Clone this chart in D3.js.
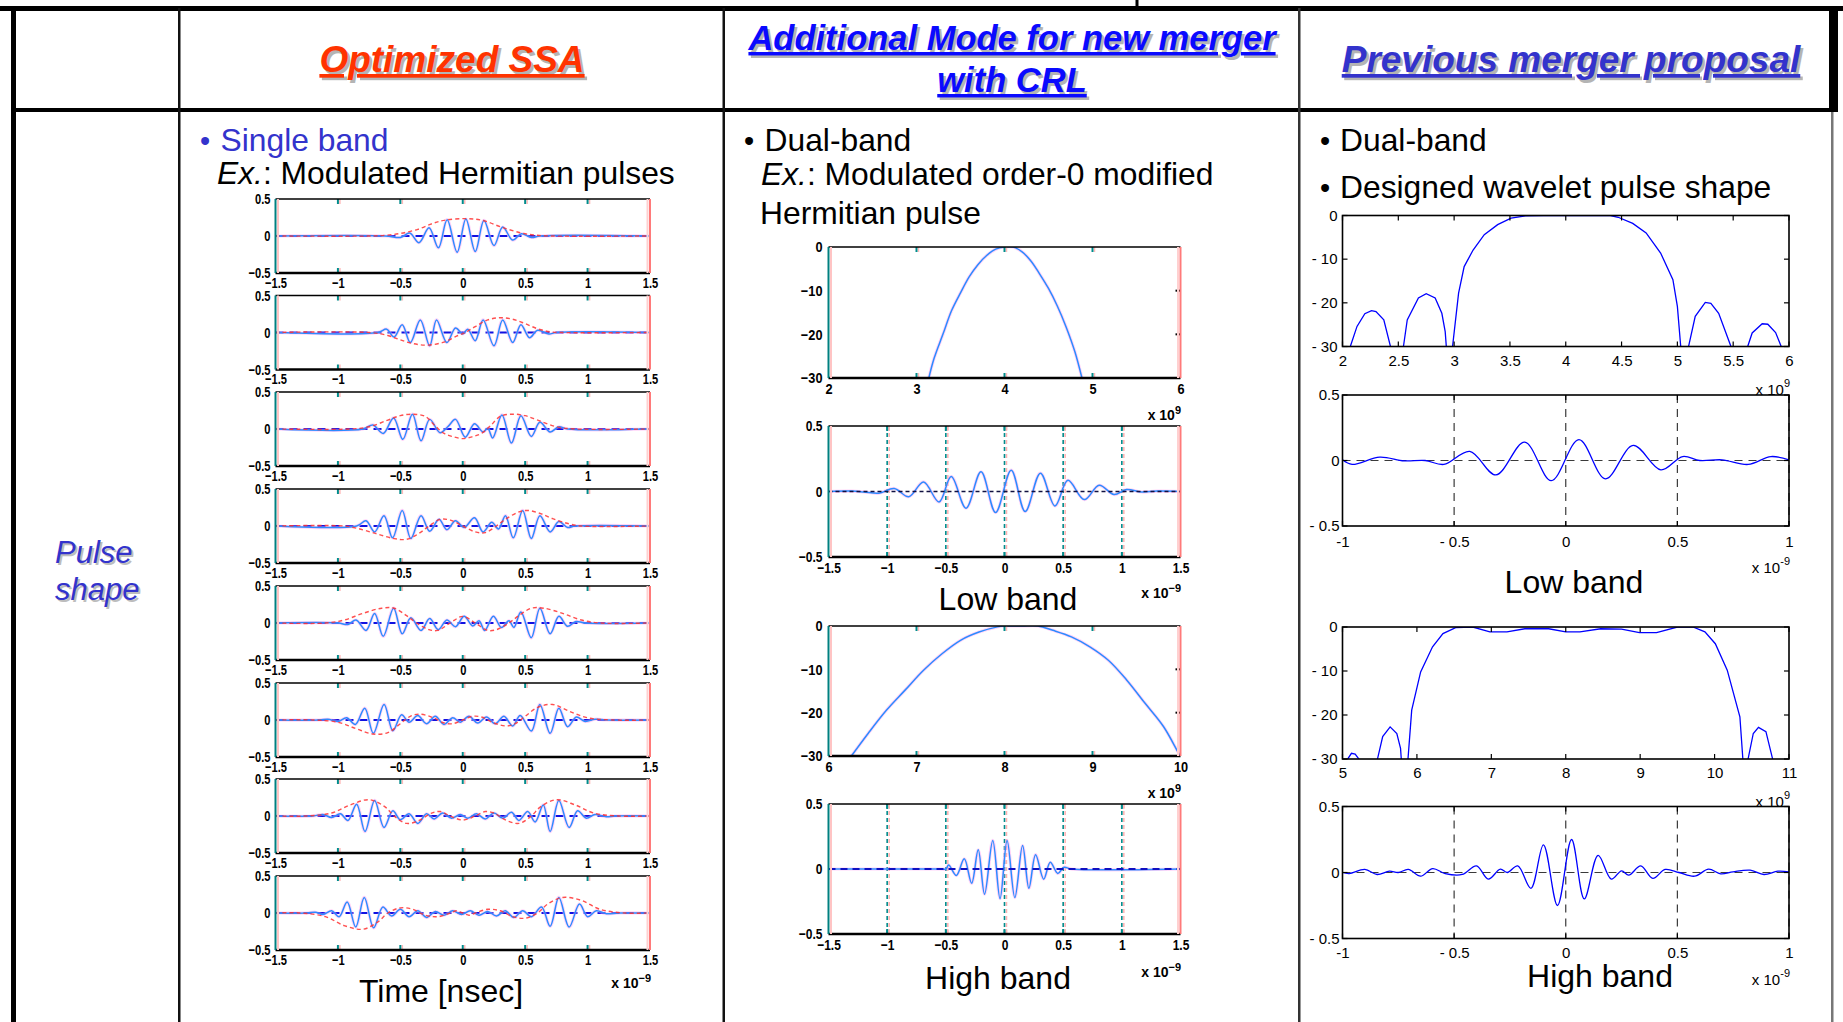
<!DOCTYPE html>
<html><head><meta charset="utf-8">
<script src="https://cdn.jsdelivr.net/npm/d3@7/dist/d3.min.js"></script>
<style>html,body{margin:0;padding:0;background:#fff;}svg{display:block;}</style>
</head><body>
<svg id="c" width="1843" height="1022"></svg>
<script>
// ================= DATA =================
const headerTitles = ["Optimized SSA", "Additional Mode for new merger", "with CRL", "Previous merger proposal"];
const rowLabel = ["Pulse", "shape"];
const colTexts = {
  ssaBullet: "Single band",
  ssaEx: ": Modulated Hermitian pulses",
  crlBullet: "Dual-band",
  crlEx1: ": Modulated order-0 modified",
  crlEx2: "Hermitian pulse",
  prevBullet1: "Dual-band",
  prevBullet2: "Designed wavelet pulse shape"
};
const captions = ["Time [nsec]", "Low band", "High band"];

const ssaTimeTicks = [-1.5, -1, -0.5, 0, 0.5, 1, 1.5];
const ssaTimeLabels = ["−1.5", "−1", "−0.5", "0", "0.5", "1", "1.5"];
const ampTicks = [-0.5, 0, 0.5];
const ssaAmpLabels = ["−0.5", "0", "0.5"];
const crlLowFreqTicks = [2, 3, 4, 5, 6];
const crlHighFreqTicks = [6, 7, 8, 9, 10];
const dbTicks = [-30, -20, -10, 0];
const crlDbLabels = ["−30", "−20", "−10", "0"];
const prevLowFreqTicks = [2, 2.5, 3, 3.5, 4, 4.5, 5, 5.5, 6];
const prevLowFreqLabels = ["2", "2.5", "3", "3.5", "4", "4.5", "5", "5.5", "6"];
const prevHighFreqTicks = [5, 6, 7, 8, 9, 10, 11];
const prevTimeTicks = [-1, -0.5, 0, 0.5, 1];
const prevTimeLabels = ["-1", "- 0.5", "0", "0.5", "1"];
const prevDbLabels = ["- 30", "- 20", "- 10", "0"];
const prevAmpLabels = ["- 0.5", "0", "0.5"];

// Optimized SSA: modulated Hermitian pulses [t (ns), amplitude]
const ssaWave1 = [[-1.5,0],[-0.62,0],[-0.5,-0.02],[-0.425,0.04],[-0.35,-0.09],[-0.27,0.11],[-0.195,-0.16],[-0.125,0.22],[-0.045,-0.22],[0.025,0.23],[0.1,-0.21],[0.17,0.21],[0.25,-0.13],[0.32,0.12],[0.4,-0.055],[0.47,0.03],[0.55,-0.02],[0.62,0],[1.5,0]];
const ssaEnv1 = [[-1.5,0],[-0.75,0],[-0.62,0.01],[-0.5,0.035],[-0.36,0.09],[-0.24,0.17],[-0.14,0.215],[0.025,0.235],[0.16,0.21],[0.31,0.12],[0.47,0.04],[0.58,0.012],[0.72,0],[1.5,0]];
const ssaWave2 = [[-1.5,0],[-0.68,0],[-0.61,0.045],[-0.55,-0.06],[-0.485,0.105],[-0.42,-0.136],[-0.34,0.17],[-0.265,-0.18],[-0.21,0.17],[-0.127,-0.136],[-0.058,0.06],[0,-0.02],[0.04,0.045],[0.1,-0.11],[0.163,0.17],[0.25,-0.18],[0.32,0.17],[0.4,-0.136],[0.466,0.105],[0.535,-0.07],[0.6,0.03],[0.69,-0.02],[0.75,0],[1.5,0]];
const ssaEnv2 = [[-1.5,0],[-0.75,0],[-0.6,-0.04],[-0.5,-0.1],[-0.4,-0.15],[-0.28,-0.17],[-0.15,-0.13],[-0.05,-0.05],[0.02,0],[0.1,0.08],[0.2,0.17],[0.3,0.2],[0.4,0.18],[0.5,0.12],[0.6,0.05],[0.7,0.01],[0.8,0],[1.5,0]];
const ssaWave3 = [[-1.5,0],[-0.8,0],[-0.72,0.055],[-0.637,-0.06],[-0.554,0.15],[-0.48,-0.14],[-0.403,0.2],[-0.334,-0.16],[-0.265,0.13],[-0.182,-0.05],[-0.12,0.03],[-0.058,0.13],[0.02,-0.11],[0.094,0.07],[0.163,-0.04],[0.2,0.01],[0.24,-0.12],[0.314,0.19],[0.39,-0.19],[0.466,0.18],[0.549,-0.1],[0.618,0.09],[0.7,-0.04],[0.77,0.03],[0.84,0],[1.5,0]];
const ssaEnv3 = [[-1.5,0],[-0.9,0],[-0.75,0.03],[-0.6,0.12],[-0.5,0.18],[-0.4,0.2],[-0.3,0.17],[-0.22,0.04],[-0.15,-0.06],[-0.085,-0.1],[0,-0.13],[0.085,-0.1],[0.15,-0.06],[0.22,0.04],[0.3,0.17],[0.4,0.2],[0.5,0.18],[0.6,0.12],[0.75,0.03],[0.9,0],[1.5,0]];
const ssaWave4 = [[-1.5,0],[-0.85,0],[-0.775,0.07],[-0.706,-0.08],[-0.631,0.14],[-0.562,-0.16],[-0.485,0.21],[-0.416,-0.17],[-0.334,0.14],[-0.265,-0.07],[-0.19,0.09],[-0.127,-0.05],[-0.058,0.07],[0.011,-0.02],[0.094,0.11],[0.163,-0.08],[0.232,0.05],[0.287,-0.04],[0.342,0.14],[0.405,-0.16],[0.48,0.21],[0.549,-0.17],[0.618,0.14],[0.7,-0.08],[0.77,0.06],[0.84,-0.02],[0.9,0],[1.5,0]];
const ssaEnv4 = [[-1.5,0],[-0.95,0],[-0.85,-0.03],[-0.7,-0.1],[-0.55,-0.17],[-0.45,-0.18],[-0.35,-0.1],[-0.27,0],[-0.18,0.09],[-0.1,0.08],[0,0],[0.1,-0.08],[0.18,-0.09],[0.27,0],[0.35,0.1],[0.45,0.19],[0.52,0.21],[0.62,0.17],[0.72,0.1],[0.85,0.03],[0.95,0],[1.5,0]];
const ssaWave5 = [[-1.5,0],[-1.0,0],[-0.92,-0.02],[-0.855,0.04],[-0.775,-0.1],[-0.706,0.13],[-0.637,-0.18],[-0.554,0.2],[-0.485,-0.145],[-0.416,0.07],[-0.334,-0.1],[-0.265,0.06],[-0.196,-0.09],[-0.127,0.04],[-0.058,-0.05],[0.011,0.09],[0.08,-0.04],[0.13,0.03],[0.176,-0.1],[0.245,0.09],[0.31,-0.06],[0.37,0.03],[0.41,-0.06],[0.466,0.15],[0.549,-0.2],[0.618,0.2],[0.7,-0.145],[0.77,0.09],[0.84,-0.045],[0.907,0.02],[0.98,0],[1.5,0]];
const ssaEnv5 = [[-1.5,0],[-1.1,0],[-0.95,0.04],[-0.8,0.13],[-0.65,0.2],[-0.55,0.2],[-0.45,0.1],[-0.37,0],[-0.27,-0.09],[-0.2,-0.1],[-0.1,0],[0,0.09],[0.1,0],[0.2,-0.1],[0.27,-0.09],[0.37,0],[0.45,0.1],[0.55,0.2],[0.65,0.2],[0.8,0.13],[0.95,0.04],[1.1,0],[1.5,0]];
const ssaWave6 = [[-1.5,0],[-1.15,0],[-1.08,0.01],[-1.0,-0.02],[-0.93,0.03],[-0.86,-0.06],[-0.785,0.16],[-0.716,-0.18],[-0.63,0.21],[-0.56,-0.145],[-0.49,0.07],[-0.43,-0.03],[-0.36,0.06],[-0.29,-0.05],[-0.22,0.05],[-0.15,-0.06],[-0.08,0.03],[-0.02,-0.03],[0.05,0.05],[0.12,-0.04],[0.19,0.04],[0.26,-0.05],[0.33,0.05],[0.4,-0.08],[0.46,0.06],[0.55,-0.15],[0.618,0.21],[0.7,-0.18],[0.77,0.16],[0.84,-0.09],[0.91,0.04],[0.98,-0.02],[1.06,0.01],[1.15,0],[1.5,0]];
const ssaEnv6 = [[-1.5,0],[-1.2,0],[-1.0,-0.03],[-0.85,-0.12],[-0.72,-0.19],[-0.6,-0.17],[-0.5,-0.05],[-0.42,0.05],[-0.35,0.08],[-0.25,0.04],[-0.15,-0.04],[-0.08,-0.05],[0,0],[0.08,0.05],[0.15,0.04],[0.25,-0.04],[0.35,-0.08],[0.42,-0.05],[0.5,0.05],[0.6,0.17],[0.72,0.21],[0.85,0.12],[1.0,0.03],[1.2,0],[1.5,0]];
const ssaWave7 = [[-1.5,0],[-1.2,0],[-1.12,0.02],[-1.05,-0.02],[-0.98,0.03],[-0.92,-0.06],[-0.85,0.16],[-0.783,-0.21],[-0.706,0.21],[-0.631,-0.155],[-0.56,0.07],[-0.5,-0.05],[-0.43,0.03],[-0.36,-0.1],[-0.29,0.03],[-0.23,-0.04],[-0.16,0.04],[-0.09,-0.03],[-0.02,0.02],[0.04,-0.03],[0.11,0.03],[0.18,-0.04],[0.25,0.04],[0.32,-0.03],[0.39,0.05],[0.45,-0.06],[0.52,0.06],[0.58,-0.08],[0.645,0.15],[0.7,-0.21],[0.77,0.21],[0.852,-0.155],[0.92,0.07],[0.99,-0.03],[1.06,0.02],[1.15,-0.01],[1.22,0],[1.5,0]];
const ssaEnv7 = [[-1.5,0],[-1.25,0],[-1.05,0.04],[-0.9,0.15],[-0.75,0.22],[-0.62,0.12],[-0.55,0],[-0.45,-0.1],[-0.35,-0.06],[-0.25,0.04],[-0.18,0.06],[-0.1,0],[0,-0.055],[0.1,0],[0.18,0.06],[0.25,0.04],[0.35,-0.06],[0.45,-0.1],[0.55,0],[0.62,0.12],[0.75,0.22],[0.9,0.15],[1.05,0.04],[1.25,0],[1.5,0]];
const ssaWave8 = [[-1.5,0],[-1.25,0],[-1.18,0.01],[-1.12,-0.02],[-1.05,0.03],[-0.99,-0.05],[-0.926,0.15],[-0.857,-0.19],[-0.789,0.21],[-0.714,-0.2],[-0.64,0.08],[-0.57,-0.04],[-0.5,0.05],[-0.43,-0.05],[-0.36,0.03],[-0.29,-0.06],[-0.22,0.02],[-0.15,-0.03],[-0.08,0.03],[-0.01,-0.02],[0.06,0.03],[0.13,-0.03],[0.2,0.02],[0.27,-0.04],[0.34,0.03],[0.41,-0.06],[0.48,0.03],[0.55,-0.05],[0.631,0.08],[0.7,-0.18],[0.77,0.21],[0.852,-0.19],[0.935,0.12],[1.0,-0.05],[1.07,0.03],[1.15,-0.01],[1.25,0],[1.5,0]];
const ssaEnv8 = [[-1.5,0],[-1.3,0],[-1.1,-0.05],[-0.95,-0.17],[-0.8,-0.22],[-0.68,-0.12],[-0.6,0],[-0.5,0.07],[-0.4,0.05],[-0.3,-0.03],[-0.2,-0.05],[-0.1,0],[-0.05,0.03],[0,0],[0.05,-0.03],[0.1,0],[0.2,0.05],[0.3,0.03],[0.4,-0.05],[0.5,-0.07],[0.6,0],[0.68,0.12],[0.8,0.21],[0.95,0.17],[1.1,0.05],[1.3,0],[1.5,0]];

// Additional mode with CRL: spectra [GHz, dB] and time pulses [ns, amplitude]
const crlLowSpec = [[3.14,-30],[3.2,-25.5],[3.3,-20],[3.4,-14.5],[3.5,-10.5],[3.6,-6.8],[3.7,-4],[3.8,-1.9],[3.9,-0.5],[4.0,0],[4.1,0],[4.2,-1.1],[4.3,-3.2],[4.4,-6.2],[4.5,-9.5],[4.6,-13.5],[4.7,-18.3],[4.8,-24],[4.88,-30]];
const crlLowTime = [[-1.5,0],[-1.3,0.003],[-1.2,-0.003],[-1.07,-0.013],[-0.94,0.023],[-0.816,-0.04],[-0.69,0.073],[-0.558,-0.08],[-0.454,0.114],[-0.328,-0.127],[-0.2,0.15],[-0.076,-0.16],[0.057,0.163],[0.176,-0.153],[0.306,0.14],[0.43,-0.11],[0.54,0.085],[0.68,-0.062],[0.807,0.047],[0.933,-0.023],[1.04,0.015],[1.17,-0.004],[1.3,0.003],[1.5,0]];
const crlHighSpec = [[6.26,-30],[6.45,-24.8],[6.66,-19.4],[6.87,-14.8],[7.08,-10.2],[7.29,-6.4],[7.5,-3.3],[7.71,-1.4],[7.92,-0.2],[8.0,0],[8.2,0],[8.38,0],[8.55,-1.0],[8.76,-2.5],[8.97,-4.8],[9.18,-7.9],[9.39,-12.5],[9.6,-17.9],[9.81,-23.3],[9.98,-29.4],[10,-30]];
const crlHighTime = [[-1.5,0],[-0.55,0],[-0.5,0],[-0.476,0.03],[-0.41,-0.05],[-0.343,0.078],[-0.28,-0.11],[-0.224,0.148],[-0.17,-0.194],[-0.1,0.22],[-0.038,-0.228],[0.022,0.22],[0.088,-0.22],[0.154,0.18],[0.208,-0.148],[0.265,0.11],[0.334,-0.078],[0.39,0.052],[0.454,-0.034],[0.507,0.013],[0.57,0],[1.5,0]];

// Previous merger proposal: spectra [GHz, dB] and time pulses [ns, amplitude]
const prevLowSpec = [[2.0,-40],[2.07,-30],[2.13,-25.4],[2.2,-22.5],[2.26,-21.8],[2.3,-22],[2.37,-23.9],[2.43,-30],[2.49,-45],[2.546,-30],[2.58,-23.9],[2.68,-18.9],[2.75,-17.9],[2.83,-18.9],[2.89,-22.4],[2.92,-26.6],[2.93,-30],[2.96,-45],[2.986,-30],[3.04,-17.8],[3.09,-11.7],[3.17,-7.9],[3.27,-4.4],[3.39,-2.1],[3.51,-0.6],[3.64,-0.1],[3.8,0],[4.0,0],[4.2,0],[4.4,0],[4.47,-0.4],[4.6,-1.8],[4.72,-4.0],[4.85,-8.6],[4.96,-14.7],[5.0,-20.8],[5.03,-30],[5.06,-45],[5.1,-30],[5.16,-23.1],[5.25,-19.9],[5.3,-20.1],[5.37,-22.4],[5.48,-30],[5.55,-45],[5.63,-30],[5.67,-26.9],[5.76,-24.8],[5.81,-24.9],[5.88,-26.8],[5.93,-30],[5.97,-45]];
const prevLowTime = [[-1,0.005],[-0.957,-0.03],[-0.833,0.026],[-0.724,-0.003],[-0.63,0.0],[-0.546,-0.03],[-0.43,0.07],[-0.313,-0.11],[-0.184,0.14],[-0.065,-0.154],[0.059,0.16],[0.178,-0.14],[0.302,0.115],[0.426,-0.072],[0.524,0.03],[0.6,0.0],[0.7,0.005],[0.817,-0.03],[0.919,0.03],[1,0.005]];
const prevHighSpec = [[5.0,-40],[5.07,-30],[5.12,-28.7],[5.17,-28.9],[5.22,-30],[5.35,-45],[5.47,-30],[5.54,-24.9],[5.64,-22.7],[5.73,-24.2],[5.78,-27.6],[5.79,-30],[5.84,-45],[5.88,-30],[5.93,-18.9],[6.05,-10.2],[6.21,-4.5],[6.35,-1.5],[6.52,-0.15],[6.75,0],[6.98,-1.1],[7.21,-1.1],[7.45,-0.4],[7.77,-0.4],[8.0,-1.1],[8.19,-1.1],[8.47,-0.4],[8.75,-0.5],[8.99,-1.3],[9.22,-1.3],[9.5,0],[9.71,0],[9.87,-1.1],[10.01,-3.8],[10.17,-9.8],[10.34,-20.4],[10.38,-30],[10.42,-45],[10.45,-30],[10.52,-24.2],[10.59,-22.8],[10.69,-23.8],[10.78,-30],[10.85,-45],[11,-45]];
const prevHighTime = [[-1,0],[-0.97,-0.008],[-0.9,0.023],[-0.845,-0.015],[-0.79,0.01],[-0.75,0.0],[-0.705,0.023],[-0.65,-0.028],[-0.596,0.03],[-0.54,-0.008],[-0.464,-0.015],[-0.4,0.05],[-0.347,-0.05],[-0.293,0.025],[-0.262,0.0],[-0.215,0.05],[-0.156,-0.12],[-0.1,0.21],[-0.037,-0.25],[0.026,0.25],[0.083,-0.2],[0.145,0.13],[0.204,-0.05],[0.25,0.013],[0.282,-0.02],[0.336,0.05],[0.39,-0.045],[0.445,0.023],[0.507,0.0],[0.577,-0.028],[0.64,0.025],[0.694,-0.01],[0.749,0.005],[0.826,0.018],[0.888,-0.015],[0.95,0.01],[1,0.005]];

// ================= DRAWING =================
const FONT = "'Liberation Sans', Arial, Helvetica, sans-serif";
const svg = d3.select('#c');
let clipN = 0;

function condense(sel, f) {
  sel.each(function () {
    const L = this.getComputedTextLength();
    if (L > 0) d3.select(this).attr('textLength', L * f).attr('lengthAdjust', 'spacingAndGlyphs');
  });
}

// --- table frame ---
const frame = svg.append('g');
[[0, 6, 1843, 5, '#000'], [1135.5, 0, 3, 8, '#000'], [11, 6, 5, 1016, '#000'], [12, 108, 1824, 4, '#000'],
 [178, 8, 2.5, 1014, '#111'], [722.5, 8, 2.5, 1014, '#111'], [1298, 8, 2.5, 1014, '#333'],
 [1829, 6, 9, 106, '#000'], [1831, 112, 2.5, 910, '#777']].forEach(r => {
  frame.append('rect').attr('x', r[0]).attr('y', r[1]).attr('width', r[2]).attr('height', r[3]).attr('fill', r[4]);
});

// --- headers ---
function headText(txt, cx, by, size, color) {
  [[2.5, 2.5, '#b4b4b4'], [0, 0, color]].forEach(([dx, dy, c]) => {
    svg.append('text').attr('x', cx + dx).attr('y', by + dy).attr('text-anchor', 'middle')
      .attr('font-family', FONT).attr('font-size', size).attr('font-weight', 'bold').attr('font-style', 'italic')
      .attr('fill', c).style('text-decoration', 'underline').text(txt);
  });
}
headText(headerTitles[0], 452, 72, 37, '#ff3300');
headText(headerTitles[1], 1012, 50, 34.5, '#0a0aff');
headText(headerTitles[2], 1012, 92, 34.5, '#0a0aff');
headText(headerTitles[3], 1571, 72, 37, '#3333cc');

// --- row label ---
[[2, 2, '#bdbdbd'], [0, 0, '#3333cc']].forEach(([dx, dy, c]) => {
  svg.append('text').attr('x', 55 + dx).attr('y', 563 + dy).attr('font-family', FONT).attr('font-size', 31)
    .attr('font-style', 'italic').attr('fill', c).text(rowLabel[0]);
  svg.append('text').attr('x', 55 + dx).attr('y', 600 + dy).attr('font-family', FONT).attr('font-size', 31)
    .attr('font-style', 'italic').attr('fill', c).text(rowLabel[1]);
});

// --- body texts ---
function bodyText(x, y, parts, color, size) {
  const t = svg.append('text').attr('x', x).attr('y', y).attr('font-family', FONT).attr('font-size', size || 31.8).attr('fill', color || '#000');
  parts.forEach(p => t.append('tspan').attr('font-style', p.i ? 'italic' : null).text(p.t));
  return t;
}
bodyText(200, 151, [{t: '•'}], '#3333cc', 29);
bodyText(220.5, 151, [{t: colTexts.ssaBullet}], '#3333cc');
bodyText(217, 184, [{t: 'Ex.', i: true}, {t: colTexts.ssaEx}]);
bodyText(744, 151, [{t: '•'}], '#000', 29);
bodyText(764.5, 151, [{t: colTexts.crlBullet}]);
bodyText(761, 184.5, [{t: 'Ex.', i: true}, {t: colTexts.crlEx1}]);
bodyText(760, 224, [{t: colTexts.crlEx2}]);
bodyText(1320, 151, [{t: '•'}], '#000', 29);
bodyText(1340, 151, [{t: colTexts.prevBullet1}]);
bodyText(1320, 198, [{t: '•'}], '#000', 29);
bodyText(1340, 198, [{t: colTexts.prevBullet2}]);

function caption(txt, cx, by) {
  svg.append('text').attr('x', cx).attr('y', by).attr('text-anchor', 'middle').attr('font-family', FONT)
    .attr('font-size', 32).attr('fill', '#000').text(txt);
}
caption(captions[0], 441, 1002);
caption(captions[1], 1008, 610);
caption(captions[2], 998, 989);
caption(captions[1], 1574, 593);
caption(captions[2], 1600, 987);

// --- generic panel ---
function panel(o) {
  const g = svg.append('g');
  const x = d3.scaleLinear().domain(o.xdom).range([o.x0, o.x0 + o.w]);
  const y = d3.scaleLinear().domain(o.ydom).range([o.y0 + o.h, o.y0]);
  const id = 'clip' + (clipN++);
  svg.append('clipPath').attr('id', id).append('rect').attr('x', o.x0).attr('y', o.y0).attr('width', o.w).attr('height', o.h);
  g.append('rect').attr('x', o.x0).attr('y', o.y0).attr('width', o.w).attr('height', o.h).attr('fill', '#fff');
  const under = g.append('g');
  const plot = g.append('g').attr('clip-path', `url(#${id})`);
  const over = g.append('g');
  return {g, x, y, plot, under, over};
}

// bitmap-like MATLAB style (left and middle columns)
function bitmapFrame(P, o) {
  const {x, y, under, over} = P;
  const inner = o.xt.slice(1, -1);
  if (o.grid) {
    inner.forEach(v => {
      under.append('line').attr('x1', x(v) + 2).attr('x2', x(v) + 2).attr('y1', o.y0).attr('y2', o.y0 + o.h)
        .attr('stroke', '#ffb0b0').attr('stroke-width', 1.5).attr('stroke-dasharray', '4,3');
      under.append('line').attr('x1', x(v)).attr('x2', x(v)).attr('y1', o.y0).attr('y2', o.y0 + o.h)
        .attr('stroke', '#008c8c').attr('stroke-width', 1.6).attr('stroke-dasharray', '4,3');
    });
  }
  inner.forEach(v => {
    [[o.y0, o.y0 + 5], [o.y0 + o.h - 5, o.y0 + o.h]].forEach(([a, b]) => {
      over.append('line').attr('x1', x(v) + 2).attr('x2', x(v) + 2).attr('y1', a).attr('y2', b).attr('stroke', '#ffb8b8').attr('stroke-width', 1.5);
      over.append('line').attr('x1', x(v)).attr('x2', x(v)).attr('y1', a).attr('y2', b).attr('stroke', '#008c8c').attr('stroke-width', 2);
    });
  });
  if (o.rightTicks) {
    o.yt.slice(1, -1).forEach(v => {
      over.append('line').attr('x1', o.x0 + o.w - 5).attr('x2', o.x0 + o.w).attr('y1', y(v)).attr('y2', y(v)).attr('stroke', '#000').attr('stroke-width', 2);
    });
  }
  over.append('line').attr('x1', o.x0).attr('x2', o.x0 + o.w).attr('y1', o.y0).attr('y2', o.y0).attr('stroke', '#000').attr('stroke-width', 1.4);
  over.append('line').attr('x1', o.x0).attr('x2', o.x0 + o.w).attr('y1', o.y0 + o.h).attr('y2', o.y0 + o.h).attr('stroke', '#000').attr('stroke-width', 2.6);
  over.append('line').attr('x1', o.x0 + 2.5).attr('x2', o.x0 + 2.5).attr('y1', o.y0).attr('y2', o.y0 + o.h).attr('stroke', '#ffc4c4').attr('stroke-width', 2);
  over.append('line').attr('x1', o.x0).attr('x2', o.x0).attr('y1', o.y0).attr('y2', o.y0 + o.h).attr('stroke', '#008080').attr('stroke-width', 2);
  over.append('line').attr('x1', o.x0 + o.w - 2.5).attr('x2', o.x0 + o.w - 2.5).attr('y1', o.y0).attr('y2', o.y0 + o.h).attr('stroke', '#ffd0d0').attr('stroke-width', 2);
  over.append('line').attr('x1', o.x0 + o.w).attr('x2', o.x0 + o.w).attr('y1', o.y0).attr('y2', o.y0 + o.h).attr('stroke', '#ff7a7a').attr('stroke-width', 2);

  const fs = o.fs || 15;
  const ax = over.append('g').attr('transform', `translate(0,${o.y0 + o.h})`)
    .call(d3.axisBottom(x).tickValues(o.xt).tickFormat((d, i) => o.xl[i]).tickSize(0).tickPadding(o.xpad));
  const ay = over.append('g').attr('transform', `translate(${o.x0},0)`)
    .call(d3.axisLeft(y).tickValues(o.yt).tickFormat((d, i) => o.yl[i]).tickSize(0).tickPadding(o.ypad));
  [ax, ay].forEach(a => {
    a.select('.domain').remove();
    a.attr('font-family', FONT).attr('font-size', fs).attr('font-weight', 'bold');
    a.selectAll('text').attr('fill', '#000');
    condense(a.selectAll('text'), o.cond || 0.78);
  });
}

function wave(P, data, curve) {
  const line = d3.line().x(d => P.x(d[0])).y(d => P.y(d[1])).curve(curve || d3.curveCatmullRom.alpha(0.5));
  P.plot.append('path').datum(data).attr('d', line).attr('fill', 'none').attr('stroke', '#ff9cf0').attr('stroke-width', 3.2).attr('stroke-opacity', 0.45);
  P.plot.append('path').datum(data).attr('d', line).attr('fill', 'none').attr('stroke', '#2b8cff').attr('stroke-width', 1.5);
}

function expLabel(xEnd, by, base, exp, style) {
  const bm = style === 'bitmap';
  const t = svg.append('text').attr('x', xEnd).attr('y', by).attr('text-anchor', 'end').attr('font-family', FONT)
    .attr('font-size', bm ? 14 : 15).attr('font-weight', bm ? 'bold' : null).attr('fill', '#000');
  t.append('tspan').text(base);
  t.append('tspan').attr('dy', bm ? -6 : -8).attr('font-size', bm ? 11 : 11).text(exp);
}

// ---- Left column: 8 SSA panels ----
const ssaWaves = [ssaWave1, ssaWave2, ssaWave3, ssaWave4, ssaWave5, ssaWave6, ssaWave7, ssaWave8];
const ssaEnvs = [ssaEnv1, ssaEnv2, ssaEnv3, ssaEnv4, ssaEnv5, ssaEnv6, ssaEnv7, ssaEnv8];
const leftTops = [199, 295.5, 392, 489, 586, 683, 779, 876];
ssaWaves.forEach((w, i) => {
  const o = {x0: 275.5, w: 374.5, y0: leftTops[i], h: 74, xdom: [-1.5, 1.5], ydom: [-0.5, 0.5],
    xt: ssaTimeTicks, xl: ssaTimeLabels, yt: ampTicks, yl: ssaAmpLabels, xpad: 4, ypad: 5, cond: 0.74};
  const P = panel(o);
  bitmapFrame(P, o);
  P.plot.append('line').attr('x1', o.x0).attr('x2', o.x0 + o.w).attr('y1', P.y(0)).attr('y2', P.y(0))
    .attr('stroke', '#1010e0').attr('stroke-width', 2).attr('stroke-dasharray', '8,6');
  wave(P, w);
  const env = d3.line().x(d => P.x(d[0])).y(d => P.y(d[1])).curve(d3.curveCatmullRom.alpha(0.5));
  P.plot.append('path').datum(ssaEnvs[i]).attr('d', env).attr('fill', 'none').attr('stroke', '#ff3030')
    .attr('stroke-width', 1.4).attr('stroke-dasharray', '4,3').attr('stroke-opacity', 0.85);
});
expLabel(651, 988, 'x 10', '−9', 'bitmap');

// ---- Middle column ----
const midX0 = 828.5, midW = 352;
(function () {
  const o = {x0: midX0, w: midW, y0: 247, h: 131, xdom: [2, 6], ydom: [-30, 0], xt: crlLowFreqTicks,
    xl: crlLowFreqTicks.map(String), yt: dbTicks, yl: crlDbLabels, xpad: 5, ypad: 6, rightTicks: true, cond: 0.85};
  const P = panel(o); bitmapFrame(P, o);
  wave(P, crlLowSpec);
  expLabel(1181, 420, 'x 10', '9', 'bitmap');
})();
(function () {
  const o = {x0: midX0, w: midW, y0: 426, h: 131, xdom: [-1.5, 1.5], ydom: [-0.5, 0.5], xt: ssaTimeTicks,
    xl: ssaTimeLabels, yt: ampTicks, yl: ssaAmpLabels, xpad: 5, ypad: 6, grid: true, cond: 0.8};
  const P = panel(o); bitmapFrame(P, o);
  wave(P, crlLowTime);
  P.plot.append('line').attr('x1', o.x0).attr('x2', o.x0 + o.w).attr('y1', P.y(0)).attr('y2', P.y(0))
    .attr('stroke', '#101040').attr('stroke-width', 1.6).attr('stroke-dasharray', '4,3');
  expLabel(1181, 598, 'x 10', '−9', 'bitmap');
})();
(function () {
  const o = {x0: midX0, w: midW, y0: 626, h: 130, xdom: [6, 10], ydom: [-30, 0], xt: crlHighFreqTicks,
    xl: crlHighFreqTicks.map(String), yt: dbTicks, yl: crlDbLabels, xpad: 5, ypad: 6, rightTicks: true, cond: 0.85};
  const P = panel(o); bitmapFrame(P, o);
  wave(P, crlHighSpec);
  expLabel(1181, 798, 'x 10', '9', 'bitmap');
})();
(function () {
  const o = {x0: midX0, w: midW, y0: 804, h: 130, xdom: [-1.5, 1.5], ydom: [-0.5, 0.5], xt: ssaTimeTicks,
    xl: ssaTimeLabels, yt: ampTicks, yl: ssaAmpLabels, xpad: 5, ypad: 6, grid: true, cond: 0.8};
  const P = panel(o); bitmapFrame(P, o);
  wave(P, crlHighTime);
  P.plot.append('line').attr('x1', o.x0).attr('x2', o.x0 + o.w).attr('y1', P.y(0)).attr('y2', P.y(0))
    .attr('stroke', '#1010c0').attr('stroke-width', 1.8).attr('stroke-dasharray', '7,5');
  expLabel(1181, 977, 'x 10', '−9', 'bitmap');
})();

// ---- Right column: classic MATLAB style ----
function prevPanel(o, data, curve) {
  const P = panel(o);
  const {x, y, over, under} = P;
  if (o.grid) {
    o.xt.slice(1).forEach(v => {
      under.append('line').attr('x1', x(v)).attr('x2', x(v)).attr('y1', o.y0).attr('y2', o.y0 + o.h)
        .attr('stroke', '#3a3a3a').attr('stroke-width', 1.2).attr('stroke-dasharray', '8,6');
    });
    under.append('line').attr('x1', o.x0).attr('x2', o.x0 + o.w).attr('y1', y(0)).attr('y2', y(0))
      .attr('stroke', '#3a3a3a').attr('stroke-width', 1.2).attr('stroke-dasharray', '8,6');
  }
  const line = d3.line().x(d => x(d[0])).y(d => y(d[1])).curve(curve);
  P.plot.append('path').datum(data).attr('d', line).attr('fill', 'none').attr('stroke', '#0000ff').attr('stroke-width', 1.3);
  o.xt.forEach(v => {
    over.append('line').attr('x1', x(v)).attr('x2', x(v)).attr('y1', o.y0 + o.h).attr('y2', o.y0 + o.h - 5).attr('stroke', '#000').attr('stroke-width', 1.2);
    over.append('line').attr('x1', x(v)).attr('x2', x(v)).attr('y1', o.y0).attr('y2', o.y0 + 5).attr('stroke', '#000').attr('stroke-width', 1.2);
  });
  o.yt.forEach(v => {
    over.append('line').attr('x1', o.x0).attr('x2', o.x0 + 5).attr('y1', y(v)).attr('y2', y(v)).attr('stroke', '#000').attr('stroke-width', 1.2);
    over.append('line').attr('x1', o.x0 + o.w).attr('x2', o.x0 + o.w - 5).attr('y1', y(v)).attr('y2', y(v)).attr('stroke', '#000').attr('stroke-width', 1.2);
  });
  over.append('rect').attr('x', o.x0).attr('y', o.y0).attr('width', o.w).attr('height', o.h)
    .attr('fill', 'none').attr('stroke', '#000').attr('stroke-width', 1.6);
  const ax = over.append('g').attr('transform', `translate(0,${o.y0 + o.h})`)
    .call(d3.axisBottom(x).tickValues(o.xt).tickFormat((d, i) => o.xl[i]).tickSize(0).tickPadding(o.xpad));
  const ay = over.append('g').attr('transform', `translate(${o.x0},0)`)
    .call(d3.axisLeft(y).tickValues(o.yt).tickFormat((d, i) => o.yl[i]).tickSize(0).tickPadding(o.ypad));
  [ax, ay].forEach(a => {
    a.select('.domain').remove();
    a.attr('font-family', FONT).attr('font-size', 15);
    a.selectAll('text').attr('fill', '#000');
  });
  return P;
}
const rX0 = 1342.5, rW = 446.5;
prevPanel({x0: rX0, w: rW, y0: 215.5, h: 131, xdom: [2, 6], ydom: [-30, 0], xt: prevLowFreqTicks, xl: prevLowFreqLabels,
  yt: dbTicks, yl: prevDbLabels, xpad: 9, ypad: 5}, prevLowSpec, d3.curveLinear);
expLabel(1790, 395, 'x 10', '9', 'prev');
prevPanel({x0: rX0, w: rW, y0: 395, h: 131, xdom: [-1, 1], ydom: [-0.5, 0.5], xt: prevTimeTicks, xl: prevTimeLabels,
  yt: ampTicks, yl: prevAmpLabels, xpad: 10, ypad: 3, grid: true}, prevLowTime, d3.curveCatmullRom.alpha(0.5));
expLabel(1790, 573, 'x 10', '-9', 'prev');
prevPanel({x0: rX0, w: rW, y0: 627, h: 132, xdom: [5, 11], ydom: [-30, 0], xt: prevHighFreqTicks, xl: prevHighFreqTicks.map(String),
  yt: dbTicks, yl: prevDbLabels, xpad: 8, ypad: 5}, prevHighSpec, d3.curveLinear);
expLabel(1790, 807, 'x 10', '9', 'prev');
prevPanel({x0: rX0, w: rW, y0: 806.5, h: 132, xdom: [-1, 1], ydom: [-0.5, 0.5], xt: prevTimeTicks, xl: prevTimeLabels,
  yt: ampTicks, yl: prevAmpLabels, xpad: 9, ypad: 3, grid: true}, prevHighTime, d3.curveCatmullRom.alpha(0.5));
expLabel(1790, 985, 'x 10', '-9', 'prev');
</script>
</body></html>
